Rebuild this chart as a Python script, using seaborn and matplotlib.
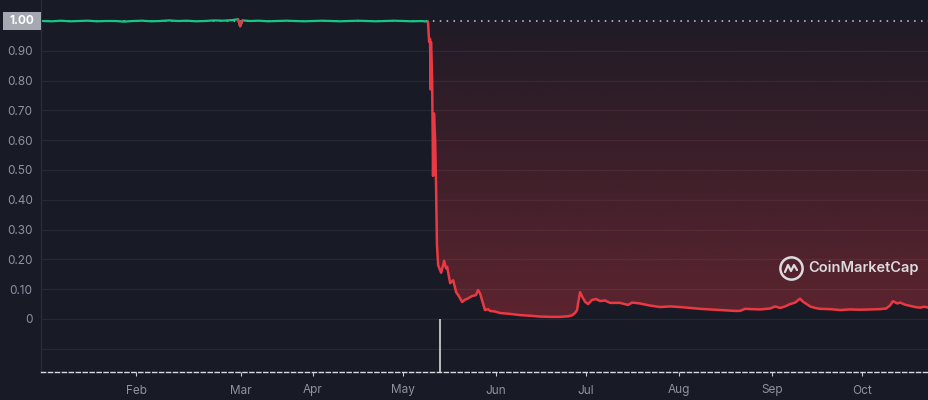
import numpy as np
import pandas as pd
import seaborn as sns
import matplotlib.pyplot as plt
import matplotlib.dates as mdates
from matplotlib.patches import Rectangle

# day offsets from 1 Jan 2022 and price (USD)
start = pd.Timestamp("2022-01-01")

pre_days = [0, 3, 6, 9, 12, 15, 18, 21, 24, 27, 30, 33, 36, 39, 42, 45, 48, 51, 54,
            57, 60, 63, 65, 65.7, 66.5, 69, 72, 75, 78, 81, 84, 87, 90, 93, 96, 99,
            102, 105, 108, 111, 114, 117, 120, 123, 126, 128.3]
pre_vals = [1.000, 0.999, 1.001, 0.999, 1.000, 1.001, 0.999, 1.000, 1.000, 0.998,
            1.000, 1.001, 0.999, 1.000, 1.002, 1.000, 1.001, 0.999, 1.000, 1.002,
            1.001, 1.003, 1.006, 0.982, 1.002, 1.000, 1.001, 0.999, 1.000, 1.001,
            1.000, 0.999, 1.000, 1.001, 1.000, 0.999, 1.000, 1.001, 1.000, 0.999,
            1.000, 1.001, 1.000, 0.999, 1.000, 0.998]

post_days = [128.3, 128.7, 129.0, 129.2, 129.3, 129.7, 130.0, 130.3, 130.7, 131.0,
             131.3, 131.7, 132.7, 133.7, 134.3, 134.7, 135.7, 136.7, 137.7, 138.7,
             139.7, 140.7, 141.3, 143.0, 144.3, 145.0, 145.7, 146.3, 147.3, 148.3,
             149.0, 150.7, 152.3, 155.7, 159.0, 162.3, 165.7, 169.0, 172.3, 175.0,
             176.3, 177.3, 178.0, 178.3, 179.0, 179.7, 180.7, 181.7, 183.0, 184.3,
             185.7, 187.3, 189.0, 192.3, 195.0, 196.3, 199.0, 202.3, 205.7, 209.0,
             212.3, 215.7, 219.0, 222.3, 225.7, 230.7, 232.3, 234.0, 236.3, 239.0,
             242.3, 244.0, 245.7, 247.3, 249.0, 250.7, 252.3, 253.3, 255.7, 257.3,
             259.0, 262.3, 265.7, 269.0, 272.3, 275.7, 279.0, 281.0, 282.3, 283.3,
             284.7, 285.7, 287.3, 289.0, 290.7, 292.3, 293.7, 295.3]
post_vals = [0.998, 0.93, 0.94, 0.77, 0.93, 0.80, 0.48, 0.69, 0.60, 0.45,
             0.25, 0.18, 0.155, 0.195, 0.17, 0.175, 0.12, 0.13, 0.09, 0.075,
             0.057, 0.065, 0.067, 0.077, 0.08, 0.097, 0.085, 0.064, 0.03, 0.033,
             0.027, 0.025, 0.02, 0.017, 0.013, 0.011, 0.008, 0.007, 0.007, 0.009,
             0.012, 0.02, 0.03, 0.05, 0.09, 0.075, 0.057, 0.05, 0.064, 0.067,
             0.06, 0.062, 0.054, 0.054, 0.047, 0.055, 0.052, 0.045, 0.04, 0.042,
             0.04, 0.037, 0.034, 0.032, 0.03, 0.027, 0.027, 0.034, 0.033, 0.032,
             0.035, 0.042, 0.037, 0.042, 0.05, 0.055, 0.068, 0.058, 0.042, 0.037,
             0.034, 0.033, 0.03, 0.032, 0.031, 0.032, 0.033, 0.035, 0.045, 0.06,
             0.052, 0.055, 0.048, 0.044, 0.04, 0.038, 0.041, 0.038]

tick_days = [31, 66, 90, 120, 151, 181, 212, 243, 273]
tick_labels = ["Feb", "Mar", "Apr", "May", "Jun", "Jul", "Aug", "Sep", "Oct"]
y_ticks = [-0.1, 0, 0.1, 0.2, 0.3, 0.4, 0.5, 0.6, 0.7, 0.8, 0.9]
y_labels = ["", "0", "0.10", "0.20", "0.30", "0.40", "0.50", "0.60", "0.70", "0.80", "0.90"]
baseline = 1.00
marker_day = 132.3

BG = "#181a25"
GREEN = "#16c784"
RED = "#ea3943"
GRID = "#262834"
LABEL = "#8e93a2"


def to_date(days):
    return start + pd.to_timedelta(np.asarray(days, dtype=float), unit="D")


pre = pd.DataFrame({"date": to_date(pre_days), "price": pre_vals})
post = pd.DataFrame({"date": to_date(post_days), "price": post_vals})

sns.set_theme(style="dark", rc={"axes.facecolor": BG, "figure.facecolor": BG})
plt.rcParams["font.family"] = ["Inter", "DejaVu Sans"]

fig = plt.figure(figsize=(9.29, 4.0), dpi=100)
ax = fig.add_axes([41 / 929, 28 / 400, 888 / 929, 372 / 400])

# baseline (opening price)
ax.axhline(baseline, color="#d0d2d8", lw=1.1, ls=(0, (1, 3.5)), zorder=2)

# gradient fill between price and baseline
poly = ax.fill_between(post["date"], post["price"], baseline, color="none", lw=0)
red_rgb = np.array([234, 57, 67]) / 255
grad = np.zeros((256, 1, 4))
grad[..., :3] = red_rgb
grad[..., 3] = np.linspace(0.33, 0.04, 256).reshape(-1, 1)
x0 = mdates.date2num(post["date"].iloc[0])
x1 = mdates.date2num(post["date"].iloc[-1])
im = ax.imshow(grad, extent=[x0, x1, 0, baseline], origin="lower", aspect="auto", zorder=1)
im.set_clip_path(poly.get_paths()[0], transform=ax.transData)

sns.lineplot(data=pre, x="date", y="price", color=GREEN, lw=1.6, ax=ax, zorder=4)
# dip below the opening price drawn red
dip = pre.iloc[22:25]
sns.lineplot(data=dip, x="date", y="price", color=RED, lw=1.6, ax=ax, zorder=5)
sns.lineplot(data=post, x="date", y="price", color=RED, lw=1.8, ax=ax, zorder=4)

# hover marker
ax.vlines(to_date([marker_day])[0], -0.178, 0, color="#e6e7ea", lw=1.1, zorder=3)

ax.set_xlim(to_date([-0.67])[0], to_date([295.3])[0])
ax.set_ylim(-0.178, 1.0705)

ax.set_yticks(y_ticks, y_labels)
ax.set_xticks(to_date(tick_days), tick_labels)
ax.set_xlabel("")
ax.set_ylabel("")
ax.grid(axis="y", color=GRID, lw=0.9)
ax.grid(axis="x", visible=False)
ax.tick_params(axis="y", length=0, pad=6, labelsize=8.5, labelcolor=LABEL)
ax.tick_params(axis="x", length=3, width=0.8, color="#c9cad0", pad=6,
               labelsize=8.5, labelcolor=LABEL, bottom=True)

for side in ["top", "right"]:
    ax.spines[side].set_visible(False)
ax.spines["left"].set_color("#2a2c38")
ax.spines["left"].set_linewidth(0.9)
ax.spines["bottom"].set_color("#d8d9de")
ax.spines["bottom"].set_linestyle((0, (3, 2)))
ax.spines["bottom"].set_linewidth(1.0)

# opening price label
fig.patches.append(Rectangle((3 / 929, (400 - 30) / 400), 38 / 929, 18 / 400,
                             transform=fig.transFigure, fc="#a5a8b1", ec="none"))
fig.text(22 / 929, 1 - 21 / 400, "1.00", ha="center", va="center",
         color="white", fontsize=8.5, fontweight="bold")

# watermark
ax_w, ax_h = 888, 372
cx, cy = (791 - 41) / ax_w, (372 - 268) / ax_h
ax.plot([cx], [cy], transform=ax.transAxes, marker="o", ms=16, mfc="none",
        mec="#dcdcdf", mew=1.8, zorder=6)
wave_px = [(-6, -4), (-3, 3), (0, -3), (3, 3), (6, -2)]
ax.plot([cx + dx / ax_w for dx, dy in wave_px], [cy + dy / ax_h for dx, dy in wave_px],
        transform=ax.transAxes, color="#dcdcdf", lw=1.6, zorder=6)
ax.text((808 - 41) / ax_w, cy, "CoinMarketCap", transform=ax.transAxes,
        ha="left", va="center", color="#dcdcdf", fontsize=10.5, fontweight="semibold",
        zorder=6)

fig.savefig("out.png", dpi=100, facecolor=BG)
